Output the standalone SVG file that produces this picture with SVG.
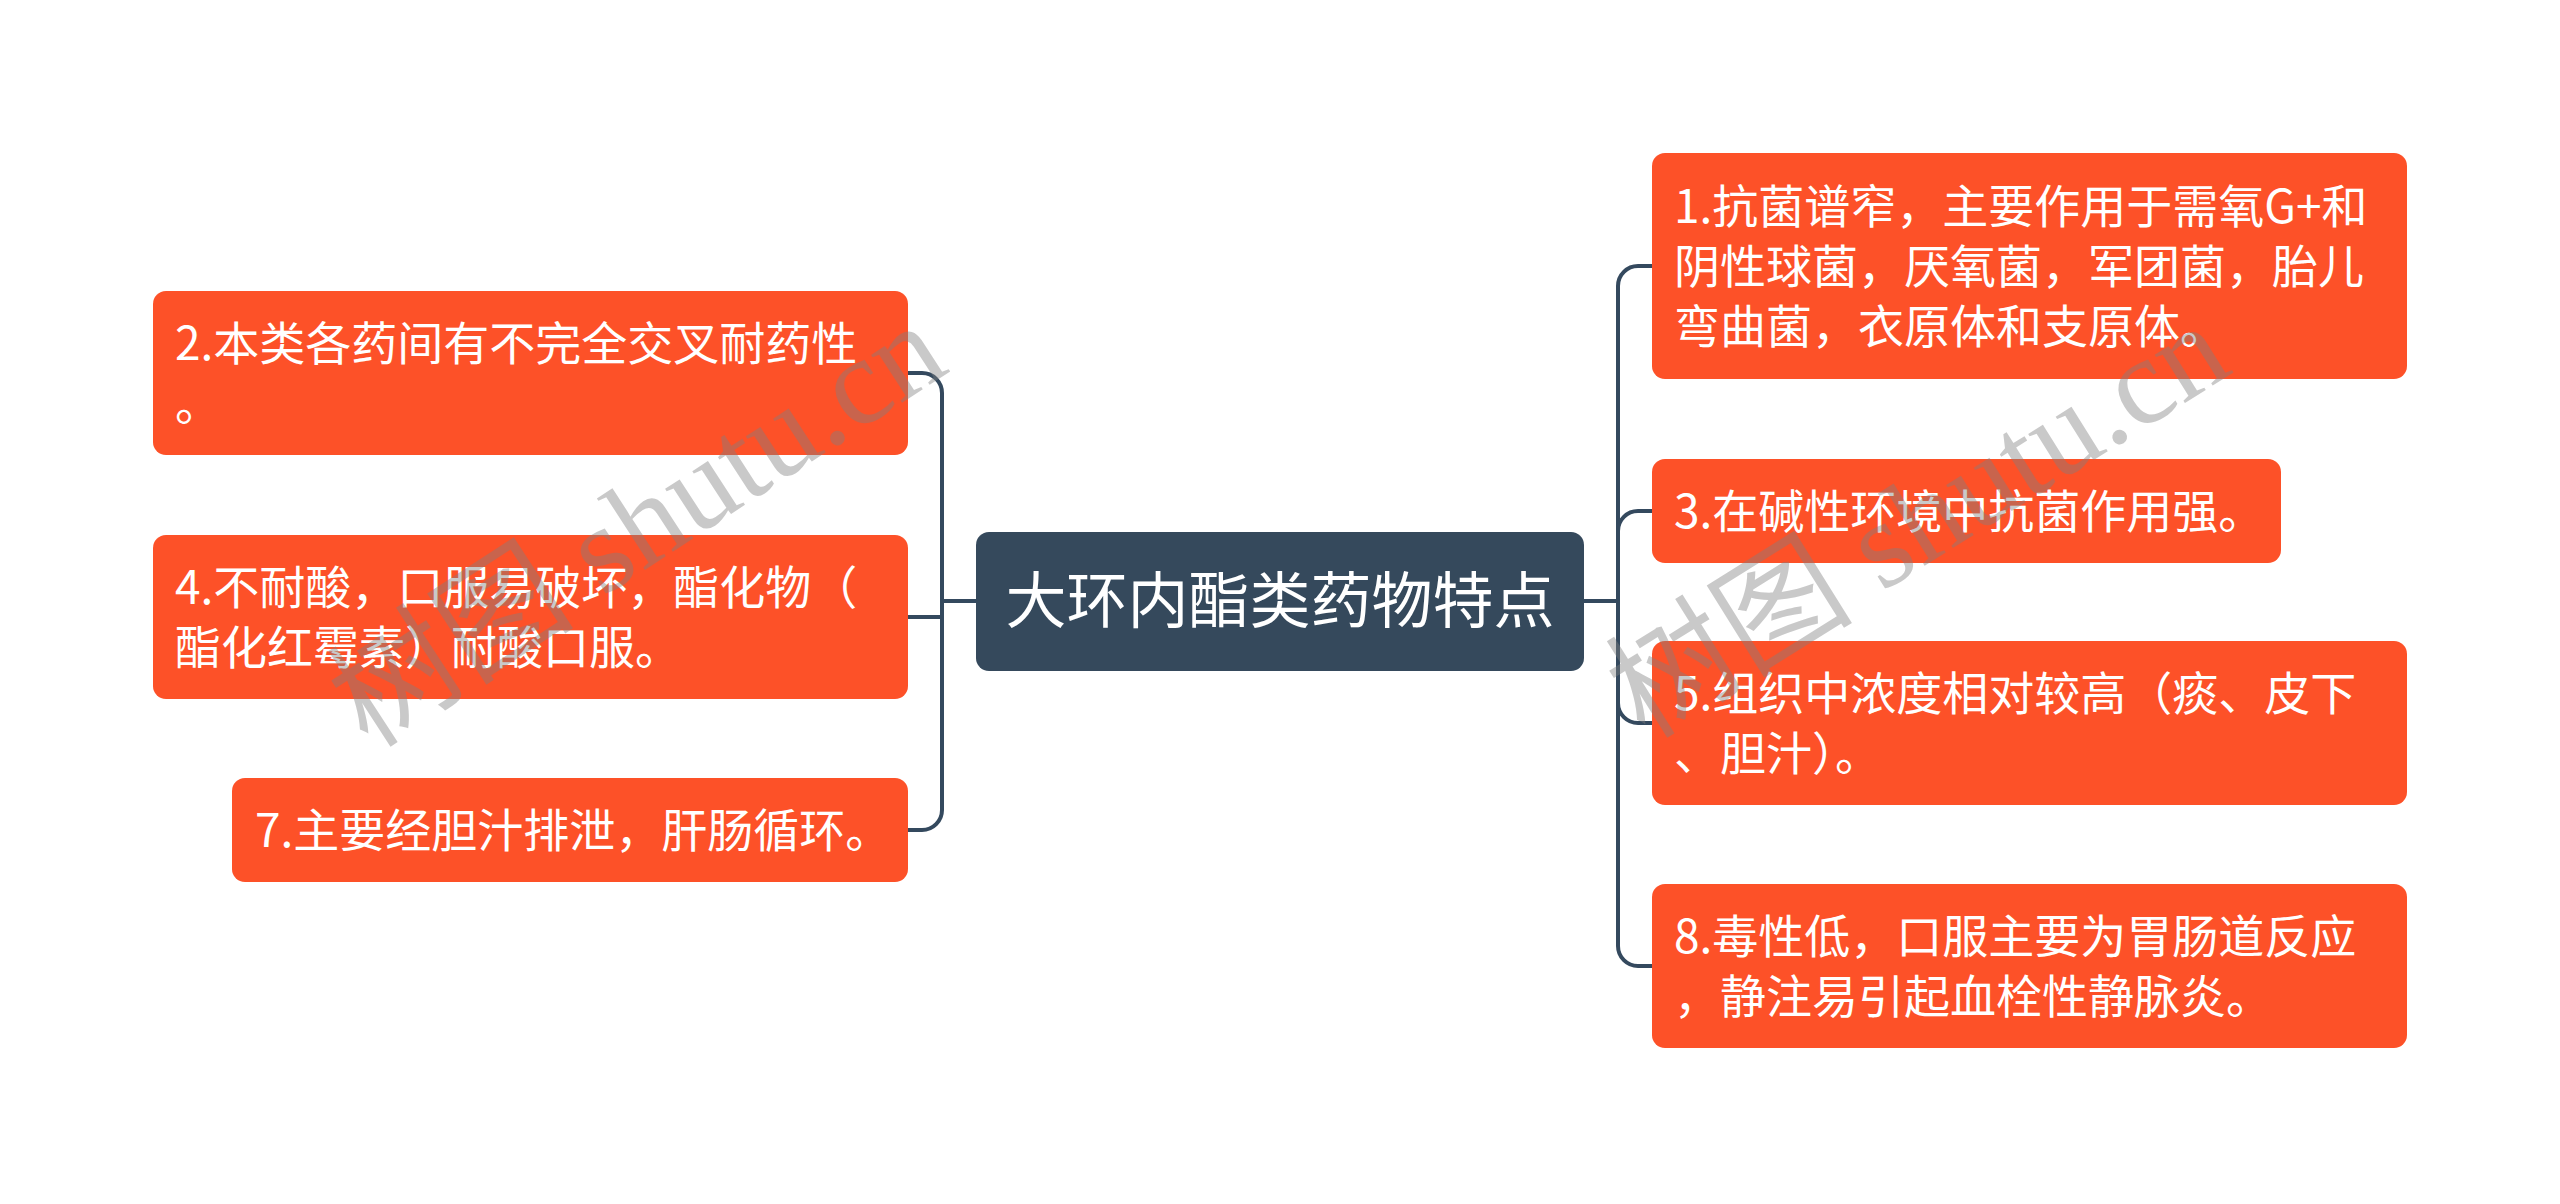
<svg xmlns="http://www.w3.org/2000/svg" width="2560" height="1204" viewBox="0 0 2560 1204">
<style>
.node rect{fill:#FD5128;}
.node text{font-family:"Noto Sans CJK SC","Noto Sans",sans-serif;font-size:46px;fill:#FFFFFF;}
.root rect{fill:#35495C;}
.root text{font-family:"Noto Sans CJK SC","Noto Sans",sans-serif;font-size:61px;fill:#FFFFFF;}
.conn path{fill:none;stroke:#34495E;stroke-width:4;}
.wm{font-family:"Liberation Serif","Noto Sans CJK SC",serif;font-size:124px;fill:#808080;opacity:0.42;}
</style>
<rect x="0" y="0" width="2560" height="1204" fill="#FFFFFF"/>
<g id="connectors" class="conn">
<path d="M976 601 H942"/>
<path d="M942 601 V393 A20 20 0 0 0 922 373 H908"/>
<path d="M942 601 V617 H908"/>
<path d="M942 601 V810 A20 20 0 0 1 922 830 H908"/>
<path d="M1584 601 H1618"/>
<path d="M1618 601 V286 A20 20 0 0 1 1638 266 H1652"/>
<path d="M1618 601 V531 A20 20 0 0 1 1638 511 H1652"/>
<path d="M1618 601 V703 A20 20 0 0 0 1638 723 H1652"/>
<path d="M1618 601 V946 A20 20 0 0 0 1638 966 H1652"/>
</g>
<g id="root" class="root">
<rect x="976" y="532" width="608" height="139" rx="13"/>
<text x="1280" y="623" text-anchor="middle">大环内酯类药物特点</text>
</g>
<g id="node2" class="node">
<rect x="153" y="291" width="755" height="164" rx="13"/>
<text x="175" y="360">2.本类各药间有不完全交叉耐药性</text>
<text x="175" y="420">。</text>
</g>
<g id="node4" class="node">
<rect x="153" y="535" width="755" height="164" rx="13"/>
<text x="175" y="604">4.不耐酸，口服易破坏，酯化物（</text>
<text x="175" y="664">酯化红霉素）耐酸口服。</text>
</g>
<g id="node7" class="node">
<rect x="232" y="778" width="676" height="104" rx="13"/>
<text x="255" y="847">7.主要经胆汁排泄，肝肠循环。</text>
</g>
<g id="node1" class="node">
<rect x="1652" y="153" width="755" height="226" rx="13"/>
<text x="1674" y="223">1.抗菌谱窄，主要作用于需氧G+和</text>
<text x="1674" y="283">阴性球菌，厌氧菌，军团菌，胎儿</text>
<text x="1674" y="343">弯曲菌，衣原体和支原体。</text>
</g>
<g id="node3" class="node">
<rect x="1652" y="459" width="629" height="104" rx="13"/>
<text x="1674" y="528">3.在碱性环境中抗菌作用强。</text>
</g>
<g id="node5" class="node">
<rect x="1652" y="641" width="755" height="164" rx="13"/>
<text x="1674" y="710">5.组织中浓度相对较高（痰、皮下</text>
<text x="1674" y="770">、胆汁）。</text>
</g>
<g id="node8" class="node">
<rect x="1652" y="884" width="755" height="164" rx="13"/>
<text x="1674" y="953">8.毒性低，口服主要为胃肠道反应</text>
<text x="1674" y="1013">，静注易引起血栓性静脉炎。</text>
</g>
<g id="watermarks">
<text class="wm" x="0" y="0" text-anchor="middle" transform="translate(660,560) rotate(-33)">树图 shutu.cn</text>
<text class="wm" x="0" y="0" text-anchor="middle" transform="translate(1940,556) rotate(-32)">树图 shutu.cn</text>
</g>
</svg>
